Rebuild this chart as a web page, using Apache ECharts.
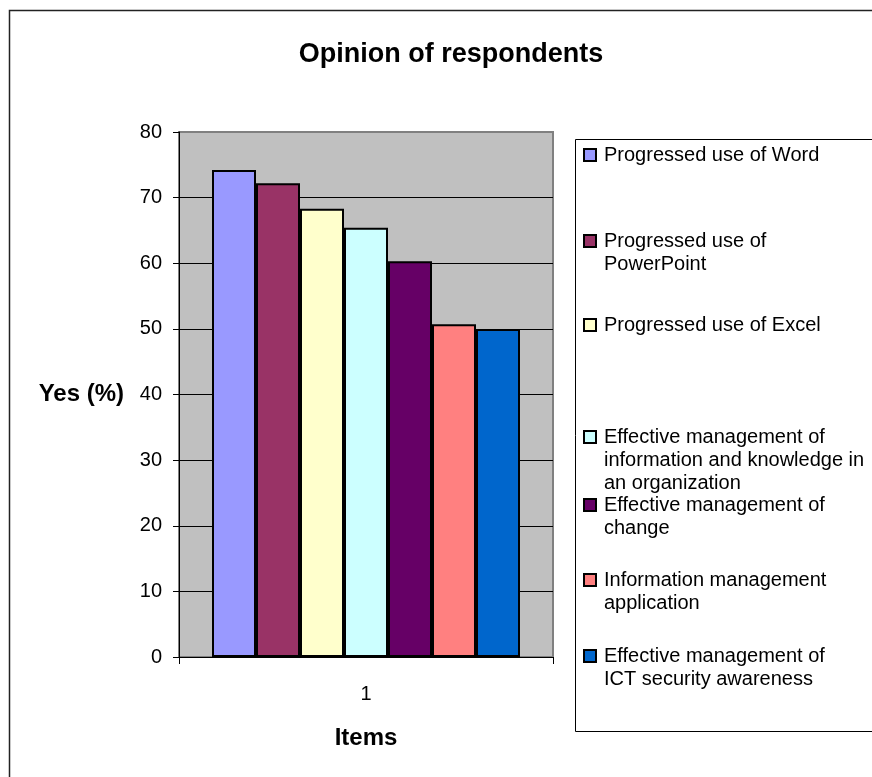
<!DOCTYPE html>
<html>
<head>
<meta charset="utf-8">
<script src="https://cdn.jsdelivr.net/npm/echarts@6/dist/echarts.min.js"></script>
<style>
html,body{margin:0;padding:0;background:#fff;}
#chart{width:872px;height:777px;}
</style>
</head>
<body>
<div id="chart"></div>
<script>
var categories = ['1'];
var seriesNames = [
  'Progressed use of Word',
  'Progressed use of PowerPoint',
  'Progressed use of Excel',
  'Effective management of information and knowledge in an organization',
  'Effective management of change',
  'Information management application',
  'Effective management of ICT security awareness'
];
var legendLabels = [
  'Progressed use of Word',
  'Progressed use of\nPowerPoint',
  'Progressed use of Excel',
  'Effective management of\ninformation and knowledge in\nan organization',
  'Effective management of\nchange',
  'Information management\napplication',
  'Effective management of\nICT security awareness'
];
var values = [74.2, 72.2, 68.3, 65.4, 60.3, 50.7, 50.0];
var yTicks = [0, 10, 20, 30, 40, 50, 60, 70, 80];

var colors = ['#9999FF', '#993366', '#FFFFCC', '#CCFFFF', '#660066', '#FF8080', '#0066CC'];
var legendCenters = [155, 241, 325, 437, 505, 580, 656];
var LH = 23;
var FONT = 'Liberation Sans, Arial, sans-serif';

var chart = echarts.init(document.getElementById('chart'));

var series = seriesNames.map(function (n, i) {
  return {
    name: n,
    type: 'bar',
    data: [values[i]],
    barWidth: 44,
    barGap: '0%',
    itemStyle: { color: colors[i], borderColor: '#000', borderWidth: 2 },
    emphasis: { disabled: true }
  };
});

var legends = seriesNames.map(function (n, i) {
  var lines = legendLabels[i].split('\n').length;
  var prefix = new Array(lines).join('\n'); // lines-1 blank lines so the icon sits beside the first line
  return {
    data: [n],
    orient: 'vertical',
    left: 583,
    top: legendCenters[i] - (2 * lines - 1) * LH / 2,
    padding: 0,
    itemWidth: 12,
    itemHeight: 12,
    icon: 'rect',
    selectedMode: false,
    formatter: function () { return prefix + legendLabels[i]; },
    textStyle: {
      color: '#000',
      fontFamily: FONT,
      fontSize: 20,
      lineHeight: LH,
      padding: [0, 0, 0, 3]
    }
  };
});

var splitColors = yTicks.map(function (t, i) { return i === yTicks.length - 1 ? '#808080' : '#000'; });

chart.setOption({
  animation: false,
  backgroundColor: '#fff',
  title: {
    text: 'Opinion of respondents',
    left: 446,
    textAlign: 'center',
    top: 36,
    textStyle: { color: '#000', fontFamily: FONT, fontSize: 27, fontWeight: 'bold' }
  },
  graphic: [
    { type: 'rect', shape: { x: 9.5, y: 10.5, width: 1000, height: 1000 }, style: { fill: 'none', stroke: '#222', lineWidth: 1.5 }, silent: true, z: -1 },
    { type: 'rect', shape: { x: 575.5, y: 139.5, width: 400, height: 592 }, style: { fill: 'none', stroke: '#000', lineWidth: 1 }, silent: true }
  ],
  legend: legends,
  grid: {
    left: 179, top: 132, right: 872 - 553, bottom: 777 - 657,
    show: true, backgroundColor: '#C0C0C0', borderColor: '#808080', borderWidth: 2
  },
  xAxis: {
    type: 'category',
    data: categories,
    name: 'Items',
    nameLocation: 'middle',
    nameGap: 69,
    nameTextStyle: { color: '#000', fontFamily: FONT, fontSize: 24, fontWeight: 'bold' },
    axisLine: { lineStyle: { color: '#000', width: 1 } },
    axisTick: { show: true, length: 7, lineStyle: { color: '#000' } },
    axisLabel: { color: '#000', fontFamily: FONT, fontSize: 20, margin: 27 }
  },
  yAxis: {
    type: 'value',
    min: 0, max: 80, interval: 10,
    name: 'Yes (%)',
    nameLocation: 'middle',
    nameRotate: 0,
    nameGap: 55,
    nameTextStyle: { color: '#000', fontFamily: FONT, fontSize: 24, fontWeight: 'bold' },
    axisLine: { show: true, lineStyle: { color: '#000', width: 1 } },
    axisTick: { show: true, length: 6, lineStyle: { color: '#000' } },
    axisLabel: { color: '#000', fontFamily: FONT, fontSize: 20, margin: 17 },
    splitLine: { show: true, lineStyle: { color: splitColors, width: 1 } }
  },
  series: series
});
</script>
</body>
</html>
